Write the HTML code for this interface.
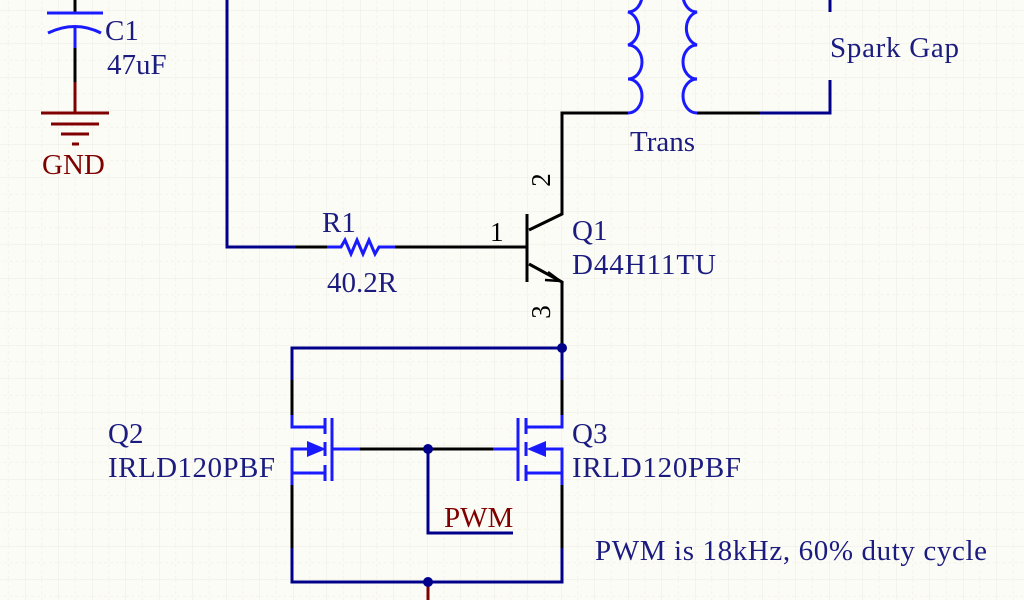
<!DOCTYPE html>
<html><head><meta charset="utf-8"><style>
html,body{margin:0;padding:0;background:#fcfcf7;}
svg{display:block;}
text{font-family:"Liberation Serif",serif;}
</style></head><body>
<svg width="1024" height="600" viewBox="0 0 1024 600" xmlns="http://www.w3.org/2000/svg">
<defs>
<pattern id="g" x="25" y="10" width="33.5" height="33.5" patternUnits="userSpaceOnUse">
<path d="M0 0V33.5M0 0H33.5" stroke="#ecebe2" stroke-width="1" fill="none"/>
<path d="M16.75 0V33.5M0 16.75H33.5" stroke="#f3f2ea" stroke-width="1" fill="none" stroke-dasharray="3 3"/>
</pattern>
</defs>
<rect width="1024" height="600" fill="#fcfcf7"/>
<rect width="1024" height="600" fill="url(#g)"/>

<g fill="none" stroke-width="3" stroke-linecap="butt">
<path d="M75 0V13" stroke="#000"/>
<path d="M47 13H103" stroke="#1a1aff"/>
<path d="M48 33Q75 20 101 33" stroke="#1a1aff"/>
<path d="M75 26V48" stroke="#1a1aff"/>
<path d="M75 48V82" stroke="#000"/>
<path d="M75 82V113" stroke="#800000"/>
<path d="M41 113H109M51 124H99M61 134H89M72 144H79" stroke="#800000"/>

<path d="M227 0V247H295" stroke="#00008b"/>
<path d="M295 247H327" stroke="#000"/>
<path d="M327 247H341L345 240L351 254L357 240L363 254L369 240L375 254L379 247H395" stroke="#1a1aff"/>
<path d="M395 247H527" stroke="#000"/>

<path d="M527 214V282" stroke="#000"/>
<path d="M529 230L562 214V113H628" stroke="#000"/>
<path d="M529 264L562 282V347" stroke="#000"/>
<path d="M548 272L560 281L545 280" stroke="#000" stroke-width="2.5"/>

<path d="M628 -22A14 17 0 0 1 628 12A14 17 0 0 1 628 45A14 17 0 0 1 628 79A14 17 0 0 1 628 113" stroke="#1a1aff"/>
<path d="M697 -22A14 17 0 0 0 697 12A14 17 0 0 0 697 45A14 17 0 0 0 697 79A14 17 0 0 0 697 113" stroke="#1a1aff"/>
<path d="M697 113H760" stroke="#000"/>
<path d="M760 113H830V80M830 0V12" stroke="#00008b"/>

<path d="M562 348H292V415" stroke="#00008b"/>
<path d="M292 380V415" stroke="#000"/>
<path d="M562 348V380" stroke="#00008b"/>
<path d="M562 380V415" stroke="#000"/>
<path d="M292 415V427H325" stroke="#1a1aff"/>
<path d="M325 418V434M325 442V456M325 465V481" stroke="#1a1aff"/>
<path d="M332 418V481" stroke="#1a1aff"/>
<path d="M292 485V449H310M292 473H325" stroke="#1a1aff"/>
<path d="M332 449H360" stroke="#1a1aff"/>
<path d="M562 415V427H526" stroke="#1a1aff"/>
<path d="M526 418V434M526 442V456M526 465V481" stroke="#1a1aff"/>
<path d="M518 418V481" stroke="#1a1aff"/>
<path d="M562 485V449H541M562 473H526" stroke="#1a1aff"/>
<path d="M518 449H493" stroke="#1a1aff"/>
<path d="M360 449H493" stroke="#000"/>
<path d="M428 449V533H513" stroke="#00008b"/>
<path d="M292 485V548M562 485V548" stroke="#000"/>
<path d="M292 548V582H562V548" stroke="#00008b"/>
<path d="M428 582V600" stroke="#800000"/>
</g>
<polygon points="326,449 307,441 307,457" fill="#1a1aff"/>
<polygon points="527,449 546,441 546,457" fill="#1a1aff"/>
<circle cx="562" cy="348" r="5" fill="#00008b"/>
<circle cx="428" cy="449" r="5" fill="#00008b"/>
<circle cx="428" cy="582" r="5" fill="#00008b"/>

<g font-size="29" fill="#1c1c80">
<text x="105" y="40">C1</text>
<text x="107" y="74">47uF</text>
<text x="322" y="232">R1</text>
<text x="327" y="292">40.2R</text>
<text x="572" y="240">Q1</text>
<text x="572" y="274" textLength="144">D44H11TU</text>
<text x="630" y="151">Trans</text>
<text x="830" y="57" textLength="129">Spark Gap</text>
<text x="108" y="443">Q2</text>
<text x="108" y="477" textLength="167">IRLD120PBF</text>
<text x="572" y="443">Q3</text>
<text x="572" y="477" textLength="169">IRLD120PBF</text>
<text x="595" y="560" textLength="392">PWM is 18kHz, 60% duty cycle</text>
</g>
<g font-size="27" fill="#000">
<text x="490" y="241">1</text>
<text transform="translate(541,180) rotate(-90)" text-anchor="middle" x="0" y="9">2</text>
<text transform="translate(541,312) rotate(-90)" text-anchor="middle" x="0" y="9">3</text>
</g>
<g font-size="29" fill="#800000">
<text x="42" y="174">GND</text>
<text x="444" y="527">PWM</text>
</g>
</svg>
</body></html>
